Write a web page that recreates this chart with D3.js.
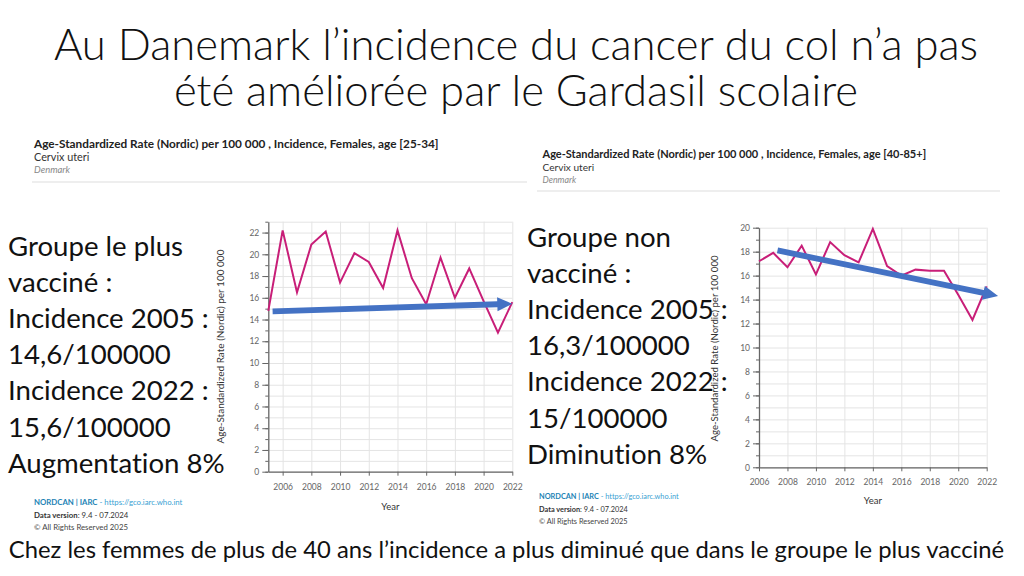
<!DOCTYPE html>
<html>
<head>
<meta charset="utf-8">
<script src="https://cdn.jsdelivr.net/npm/d3@7"></script>
<style>
  body { margin: 0; background: #fff; }
  svg text { font-family: Lato, "Noto Sans", sans-serif; font-variant-ligatures: none; }
  .grid line { stroke: #e4e4e4; stroke-width: 1; }
  .grid path { display: none; }
  .axis path, .axis line { stroke: #666; }
  .axis text { fill: #666; font-size: 8.5px; font-family: Lato, sans-serif; }
</style>
</head>
<body>
<svg id="slide" width="1024" height="576"></svg>
<script>
// ---- data ----
const yearsYoung = [2005, 2006, 2007, 2008, 2009, 2010, 2011, 2012, 2013, 2014, 2015, 2016, 2017, 2018, 2019, 2020, 2021, 2022];
const rateYoung  = [14.8, 22.2, 16.5, 20.9, 22.1, 17.4, 20.1, 19.3, 16.9, 22.2, 17.8, 15.4, 19.7, 16.0, 18.7, 15.7, 12.8, 15.6];

const yearsOld = [2006, 2007, 2008, 2009, 2010, 2011, 2012, 2013, 2014, 2015, 2016, 2017, 2018, 2019, 2020, 2021, 2022];
const rateOld  = [17.2, 17.9, 16.7, 18.5, 16.1, 18.8, 17.7, 17.1, 19.9, 16.8, 16.0, 16.5, 16.4, 16.4, 14.4, 12.3, 15.1];

// hand-drawn trend arrows [year, rate] -> [year, rate]
const trendYoung = [[2005.3, 14.75], [2022, 15.45]];
const trendOld   = [[2007.3, 18.1], [2022.8, 14.3]];

const yearTicks    = [2006, 2008, 2010, 2012, 2014, 2016, 2018, 2020, 2022];
const rateTicksYoung = [0, 2, 4, 6, 8, 10, 12, 14, 16, 18, 20, 22];
const rateTicksOld   = [0, 2, 4, 6, 8, 10, 12, 14, 16, 18, 20];

const titleLines = ["Au Danemark l’incidence du cancer du col n’a pas", "été améliorée par le Gardasil scolaire"];
const noteYoung = ["Groupe le plus", "vacciné :", "Incidence 2005 :", "14,6/100000", "Incidence 2022 :", "15,6/100000", "Augmentation 8%"];
const noteOld   = ["Groupe non", "vacciné :", "Incidence 2005 :", "16,3/100000", "Incidence 2022 :", "15/100000", "Diminution 8%"];
const headYoung = "Age-Standardized Rate (Nordic) per 100 000 , Incidence, Females, age [25-34]";
const headOld   = "Age-Standardized Rate (Nordic) per 100 000 , Incidence, Females, age [40-85+]";
const conclusion = "Chez les femmes de plus de 40 ans l’incidence a plus diminué que dans le groupe le plus vacciné";

const svg = d3.select("#slide");

// title, one text block with two lines
svg.append("text")
    .attr("text-anchor", "middle")
    .attr("font-size", 43.6)
    .attr("font-weight", 300)
    .attr("fill", "#111")
    .selectAll("tspan")
    .data(titleLines)
    .join("tspan")
    .attr("x", 516)
    .attr("y", (d, i) => 60 + i * 46)
    .text(d => d);

// conclusion line
svg.append("text")
    .attr("x", 506.5).attr("y", 558)
    .attr("text-anchor", "middle")
    .attr("font-size", 23.8)
    .attr("fill", "#111")
    .text(conclusion);

function notes(lines, x, y0) {
    svg.append("g").selectAll("text")
        .data(lines)
        .join("text")
        .attr("x", x)
        .attr("y", (d, i) => y0 + i * 36.1)
        .attr("font-size", 27.6)
        .attr("fill", "#111")
        .text(d => d);
}
notes(noteYoung, 8, 256);
notes(noteOld, 527, 247);

function header(title, x, y, size, lineX0, lineX1, lineY) {
    let g = svg.append("g");
    g.append("text").attr("x", x).attr("y", y)
        .attr("font-size", size).attr("font-weight", 700).attr("fill", "#222")
        .text(title);
    g.append("text").attr("x", x).attr("y", y + 13)
        .attr("font-size", size * 0.92).attr("fill", "#333")
        .text("Cervix uteri");
    g.append("text").attr("x", x).attr("y", y + 25.5)
        .attr("font-size", size * 0.8).attr("font-style", "italic").attr("fill", "#888")
        .text("Denmark");
    g.append("line")
        .attr("x1", lineX0).attr("x2", lineX1)
        .attr("y1", lineY).attr("y2", lineY)
        .attr("stroke", "#ddd").attr("stroke-width", 1.2);
}
header(headYoung, 34, 147.5, 11.8, 32, 527, 182);
header(headOld, 542.5, 157.5, 11, 537, 1000, 191);

function footer(x, y, size) {
    let g = svg.append("g").attr("font-size", size);
    let t1 = g.append("text").attr("x", x).attr("y", y);
    t1.append("tspan").attr("font-weight", 700).attr("fill", "#1d83b5").text("NORDCAN | IARC");
    t1.append("tspan").attr("fill", "#3a9fd3").text(" - https://gco.iarc.who.int");
    let t2 = g.append("text").attr("x", x).attr("y", y + 13).attr("fill", "#333");
    t2.append("tspan").attr("font-weight", 700).text("Data version");
    t2.append("tspan").text(": 9.4 - 07.2024");
    g.append("text").attr("x", x).attr("y", y + 25).attr("fill", "#444").text("© All Rights Reserved 2025");
}
footer(34, 505, 7.8);
footer(539, 498.5, 7.35);

function drawChart(opt) {
    const x = d3.scaleLinear().domain(opt.xDomain).range([opt.left, opt.right]);
    const y = d3.scaleLinear().domain(opt.yDomain).range([opt.bottom, opt.top]);
    const w = opt.right - opt.left, h = opt.bottom - opt.top;
    const minor = y.ticks(opt.yDomain[1]);
    const g = svg.append("g");

    g.append("g").attr("class", "grid")
        .attr("transform", `translate(${opt.left},0)`)
        .call(d3.axisLeft(y).tickValues(minor).tickSize(-w).tickFormat(""));
    g.append("g").attr("class", "grid")
        .attr("transform", `translate(0,${opt.bottom})`)
        .call(d3.axisBottom(x).tickValues(yearTicks).tickSize(-h).tickFormat(""));

    // minor ticks on the value axis
    g.append("g").attr("class", "axis")
        .attr("transform", `translate(${opt.left},0)`)
        .call(d3.axisLeft(y).tickValues(minor).tickSize(3).tickFormat(""))
        .select(".domain").remove();

    g.append("g").attr("class", "axis")
        .attr("transform", `translate(${opt.left},0)`)
        .call(d3.axisLeft(y).tickValues(opt.yTicks).tickSize(6).tickPadding(3).tickSizeOuter(0));

    g.append("g").attr("class", "axis")
        .attr("transform", `translate(0,${opt.bottom})`)
        .call(d3.axisBottom(x).tickValues(yearTicks).tickSize(4).tickPadding(8).tickSizeOuter(0).tickFormat(d3.format("d")));

    g.selectAll(".axis .domain").attr("stroke", "#555").attr("stroke-width", 1.3);

    g.append("path")
        .datum(opt.years.map((yr, i) => [yr, opt.values[i]]))
        .attr("fill", "none")
        .attr("stroke", "#c81e78")
        .attr("stroke-width", 2)
        .attr("stroke-linejoin", "miter")
        .attr("d", d3.line().x(d => x(d[0])).y(d => y(d[1])));

    // trend arrow
    const [a, b] = opt.trend;
    const x0 = x(a[0]), y0 = y(a[1]), x1 = x(b[0]), y1 = y(b[1]);
    const len = Math.hypot(x1 - x0, y1 - y0);
    const ux = (x1 - x0) / len, uy = (y1 - y0) / len;
    const nx = -uy, ny = ux;
    const sw = 2.9, hw = 7, hl = 15;
    const bx = x1 - ux * hl, by = y1 - uy * hl;
    const pts = [
        [x0 + nx * sw, y0 + ny * sw],
        [bx + nx * sw, by + ny * sw],
        [bx + nx * hw, by + ny * hw],
        [x1, y1],
        [bx - nx * hw, by - ny * hw],
        [bx - nx * sw, by - ny * sw],
        [x0 - nx * sw, y0 - ny * sw]
    ];
    g.append("polygon")
        .attr("points", pts.map(p => p.join(",")).join(" "))
        .attr("fill", "#4472c4");

    g.append("text")
        .attr("transform", `translate(${opt.yTitleX},${opt.yTitleY}) rotate(-90)`)
        .attr("text-anchor", "middle")
        .attr("font-size", opt.yTitleSize)
        .attr("fill", "#333")
        .text("Age-Standardized Rate (Nordic) per 100 000");

    g.append("text")
        .attr("x", (opt.left + opt.right) / 2)
        .attr("y", opt.yearY)
        .attr("text-anchor", "middle")
        .attr("font-size", 9.5)
        .attr("fill", "#333")
        .text("Year");
}

drawChart({
    years: yearsYoung, values: rateYoung, trend: trendYoung, yTicks: rateTicksYoung,
    xDomain: [2005, 2022], yDomain: [0, 23],
    left: 268.3, right: 512.3, top: 221.7, bottom: 471.7,
    yTitleX: 224, yTitleY: 346.5, yTitleSize: 10, yearY: 510
});
drawChart({
    years: yearsOld, values: rateOld, trend: trendOld, yTicks: rateTicksOld,
    xDomain: [2006, 2022], yDomain: [0, 20],
    left: 759, right: 986.7, top: 227.7, bottom: 467.3,
    yTitleX: 718, yTitleY: 348.5, yTitleSize: 9.6, yearY: 504
});
</script>
</body>
</html>
